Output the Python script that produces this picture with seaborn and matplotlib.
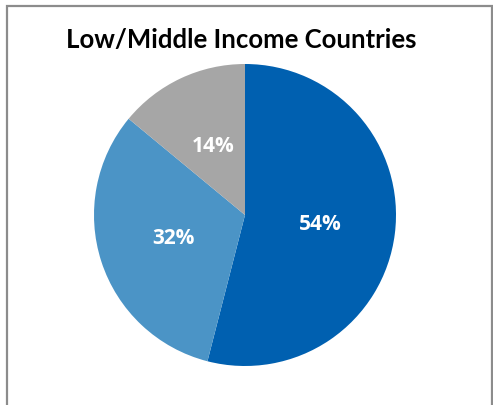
import matplotlib
matplotlib.use("Agg")
import matplotlib.pyplot as plt
import seaborn as sns
from matplotlib.patches import Rectangle

# Income-group shares of the total
categories = ["Group A", "Group B", "Group C"]
shares = [54, 32, 14]
slice_colors = ["#0060B0", "#4B94C6", "#A6A6A6"]
title = "Low/Middle Income Countries"

sns.set_theme(style="white")
plt.rcParams["font.family"] = ["Lato", "DejaVu Sans"]

W, H, DPI = 493, 405, 100
fig = plt.figure(figsize=(W / DPI, H / DPI), dpi=DPI)
fig.patch.set_facecolor("white")

# Outer chart border (open at the bottom edge of the image)
fig.add_artist(Rectangle((7 / W, -0.05), (492 - 7) / W, (H - 5.5) / H + 0.05,
                         transform=fig.transFigure, fill=False,
                         edgecolor="#8C8C8C", linewidth=1.6))

cx, cy, r = 245, 215, 151
ax = fig.add_axes([(cx - r) / W, (H - cy - r) / H, 2 * r / W, 2 * r / H])
wedges, texts, autotexts = ax.pie(
    shares,
    colors=slice_colors,
    startangle=90,
    counterclock=False,
    autopct=lambda p: f"{p:.0f}%",
    pctdistance=0.5,
    wedgeprops=dict(linewidth=0),
    textprops=dict(color="white", fontsize=15, fontweight="bold",
                   family=["Open Sans", "DejaVu Sans"]),
)
ax.set_xlim(-1, 1)
ax.set_ylim(-1, 1)
ax.set_aspect("equal")
ax.axis("off")

fig.text(241 / W, 1 - 40 / H, title, ha="center", va="center",
         fontsize=18.5, fontweight="bold", color="black")

fig.savefig("out.png", dpi=DPI, facecolor="white")
